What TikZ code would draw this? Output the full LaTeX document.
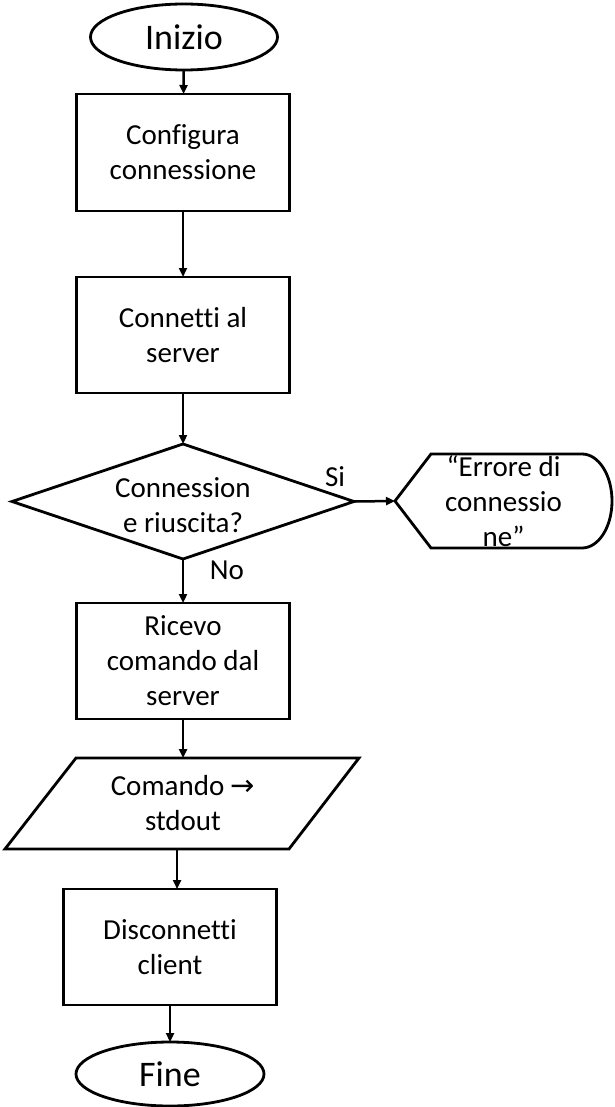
\documentclass[tikz,border=0pt]{standalone}
\usepackage{fontspec}
\setmainfont{Carlito}[Ligatures={NoCommon}]
\newfontfamily\symfont{DejaVu Sans}
\usetikzlibrary{shapes.geometric,arrows.meta}
\begin{document}
\begin{tikzpicture}[x=1pt,y=-1pt,
  every node/.style={font=\fontsize{29}{35}\selectfont, align=center, inner sep=0pt, outer sep=0pt},
  shapeline/.style={line width=2.8pt},
  procbox/.style={draw, shapeline, rectangle, minimum width=213pt, minimum height=116pt},
  terminal/.style={draw, shapeline, ellipse, minimum width=187pt, minimum height=66pt,
    font=\fontsize{36}{40}\selectfont},
  decision/.style={draw, shapeline, diamond, minimum width=342pt, minimum height=115pt},
  arr/.style={line width=2.5pt, -{Triangle[length=9pt,width=8pt]}},
  lbl/.style={font=\fontsize{29}{35}\selectfont}
]
\useasboundingbox (0,0) rectangle (614,1107);

% main column
\node[terminal] (start) at (184,37) {Inizio};
\node[procbox, minimum height=117pt] (conf) at (183,152.5) {Configura\\connessione};
\node[procbox] (conn) at (183,335) {Connetti al\\server};
\node[decision] (dec) at (183,501.5) {};
\node (dectext) at (183,505) {Connession\\e riuscita?};
\node[procbox] (recv) at (183,661) {Ricevo\\comando dal\\server};
\node[minimum width=283pt, minimum height=91pt] (io) at (183,803.5) {Comando {\symfont →}\\stdout};
\node[procbox] (disc) at (170,947) {Disconnetti\\client};
\node[terminal, minimum width=188pt, minimum height=64pt] (stop) at (170,1074) {Fine};

% error display
\node[minimum width=217pt, minimum height=94pt] (err) at (503.5,501) {“Errore di\\connessio\\ne”};
\draw[shapeline] (err.west) -- ++(36,-47) -- ++(151,0)
  .. controls +(16.6,0) and +(0,-26) .. ++(30,47)
  .. controls +(0,26) and +(16.6,0) .. ++(-30,47)
  -- ++(-151,0) -- cycle;

% input/output parallelogram
\draw[shapeline] ([shift={(-107,-45.5)}]io.center) -- ([shift={(176,-45.5)}]io.center)
  -- ([shift={(106,45.5)}]io.center) -- ([shift={(-178,45.5)}]io.center) -- cycle;

% connectors
\draw[arr] (start) -- (conf);
\draw[arr] (conf) -- (conn);
\draw[arr] (conn) -- (dec);
\draw[arr] (dec.east) -- (err.west);
\draw[arr] (dec.south) -- (recv.north);
\draw[arr] (recv.south) -- (io.north);
\draw[arr] ([xshift=-6pt]io.south) -- ([xshift=7pt]disc.north);
\draw[arr] (disc) -- (stop);

% branch labels
\node[lbl] (si) at (335,477) {Si};
\node[lbl] (no) at (227,570) {No};
\end{tikzpicture}
\end{document}
